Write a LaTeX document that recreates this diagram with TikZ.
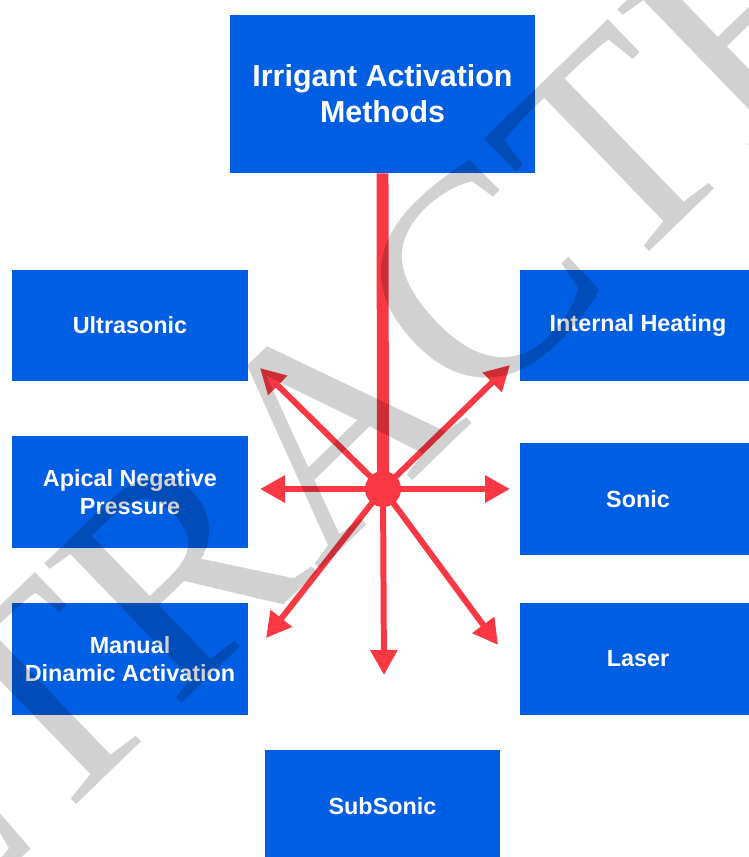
\documentclass[tikz,border=0pt]{standalone}
\usepackage{fontspec}
\setmainfont{Liberation Sans}
\newfontfamily\wmfont{Liberation Serif}
\usepackage{tikz}
\usetikzlibrary{arrows.meta}

\definecolor{boxblue}{RGB}{0,94,226}
\definecolor{arrred}{RGB}{250,56,68}

\begin{document}
\begin{tikzpicture}[x=0.02cm, y=-0.02cm,
    method/.style={fill=boxblue, text=white, font=\bfseries\fontsize{13.3}{15.9}\selectfont,
      align=center, inner sep=0pt, minimum width=4.72cm, minimum height=2.24cm},
    spoke/.style={draw=arrred, line width=3.4pt, -{Triangle[length=0.5cm,width=0.52cm]}},
    >=Triangle]
    \useasboundingbox (0,0) rectangle (749,857);
    \clip (0,0) rectangle (749,857);

    \node[method, minimum width=6.1cm, minimum height=3.16cm,
      font=\bfseries\fontsize{17.3}{20.4}\selectfont] (top) at (382.5,94)
      {Irrigant Activation\\Methods};

    \node[method] (ultra)  at (130,325.5) {Ultrasonic};
    \node[method] (apical) at (130,492)   {Apical Negative\\Pressure};
    \node[method] (manual) at (130,659)   {Manual\\Dinamic Activation};
    \node[method] (heat)   at (638,325.5) {Internal Heating};
    \node[method] (sonic)  at (638,499)   {Sonic};
    \node[method] (laser)  at (638,659)   {Laser};
    \node[method] (sub)    at (382.5,806) {SubSonic};

    \coordinate (hubc) at (383,489);
    \draw[arrred, line width=6.8pt] (top.south) -- (hubc);
    \node[circle, fill=arrred, minimum size=0.72cm, inner sep=0pt] (hub) at (hubc) {};

    % spoke ends
    \coordinate (tUl) at (260,368);
    \coordinate (tUr) at (510,365);
    \coordinate (tL)  at (260,489);
    \coordinate (tR)  at (510,489);
    \coordinate (tLl) at (266,638);
    \coordinate (tLr) at (498,645);
    \coordinate (tD)  at (384,675);

    \foreach \t in {tUl,tUr,tL,tR,tLl,tLr,tD}
      \draw[spoke] (hubc) -- (\t);

    \node[rotate=44, text=black, text opacity=0.18, inner sep=0pt,
      font=\wmfont\fontsize{170}{170}\selectfont] (wm) at (334,421) {RETRACTED};
\end{tikzpicture}
\end{document}
